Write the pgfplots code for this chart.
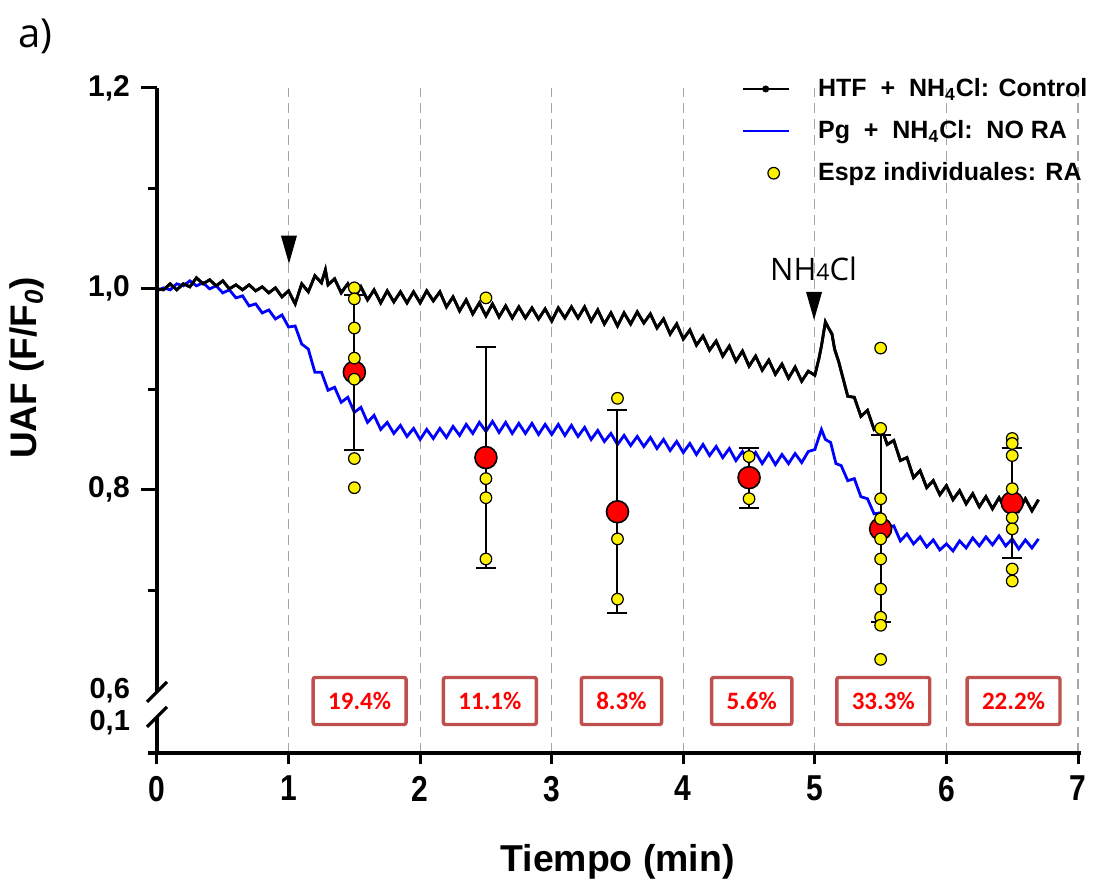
\documentclass[border=0pt]{standalone}
\usepackage{fontspec}
\setmainfont{Liberation Sans}
\newfontfamily\calib{Carlito}
\newfontfamily\opens{Open Sans}
\usepackage{graphicx}
\usepackage{pgfplots}
\usepackage{pgfplotstable}
\pgfplotsset{compat=1.18}
\definecolor{boxred}{HTML}{C0504D}
\definecolor{txtred}{HTML}{FF0000}
\definecolor{blueline}{HTML}{0000FF}
\pgfplotsset{
  legline/.style={legend image code/.code={\draw[##1] (0pt,0pt) -- (23pt,0pt);}},
  leglinedot/.style={legend image code/.code={\draw[##1] (0pt,0pt) -- (23pt,0pt); \fill[black] (11.5pt,0pt) circle (1pt);}},
  legdot/.style={legend image code/.code={\draw[##1] plot coordinates {(15.5pt,0pt)};}},
}

\pgfplotstableread{
x y
0.00 1.000
0.05 0.999
0.10 1.005
0.15 0.999
0.20 1.005
0.25 1.002
0.30 1.011
0.35 1.005
0.40 1.009
0.45 1.003
0.50 1.008
0.55 1.000
0.60 1.004
0.65 0.999
0.70 1.004
0.75 0.998
0.80 1.002
0.85 0.996
0.90 1.001
0.95 0.992
1.00 0.998
1.05 0.985
1.10 1.005
1.15 0.997
1.20 1.013
1.25 1.006
1.28 1.019
1.30 1.004
1.35 1.010
1.40 0.996
1.45 1.005
1.50 0.991
1.55 1.002
1.60 0.989
1.65 0.999
1.70 0.986
1.75 0.998
1.80 0.987
1.85 0.997
1.90 0.986
1.95 0.997
2.00 0.986
2.05 0.998
2.10 0.988
2.15 0.997
2.20 0.982
2.25 0.992
2.30 0.978
2.35 0.989
2.40 0.975
2.45 0.986
2.50 0.973
2.55 0.985
2.60 0.972
2.65 0.983
2.70 0.971
2.75 0.982
2.80 0.971
2.85 0.981
2.90 0.970
2.95 0.980
3.00 0.968
3.05 0.981
3.10 0.971
3.15 0.982
3.20 0.971
3.25 0.982
3.30 0.968
3.35 0.979
3.40 0.965
3.45 0.976
3.50 0.963
3.55 0.976
3.60 0.965
3.65 0.977
3.70 0.966
3.75 0.975
3.80 0.961
3.85 0.970
3.90 0.955
3.95 0.965
4.00 0.950
4.05 0.959
4.10 0.944
4.15 0.953
4.20 0.939
4.25 0.948
4.30 0.933
4.35 0.943
4.40 0.928
4.45 0.938
4.50 0.923
4.55 0.933
4.60 0.919
4.65 0.929
4.70 0.915
4.75 0.925
4.80 0.911
4.85 0.922
4.90 0.908
4.95 0.918
5.00 0.914
5.03 0.930
5.05 0.943
5.08 0.967
5.10 0.962
5.13 0.955
5.15 0.940
5.18 0.928
5.20 0.918
5.25 0.893
5.30 0.892
5.35 0.873
5.40 0.879
5.45 0.860
5.50 0.864
5.55 0.845
5.60 0.849
5.65 0.829
5.70 0.832
5.75 0.812
5.80 0.819
5.85 0.802
5.90 0.809
5.95 0.795
6.00 0.804
6.05 0.790
6.10 0.799
6.15 0.786
6.20 0.796
6.25 0.783
6.30 0.793
6.35 0.781
6.40 0.792
6.45 0.780
6.50 0.791
6.55 0.779
6.60 0.791
6.65 0.779
6.70 0.790
}\blackdata

\pgfplotstableread{
x y
0.00 0.998
0.05 1.001
0.10 0.999
0.15 1.005
0.20 1.003
0.25 1.008
0.30 1.003
0.35 1.006
0.40 1.000
0.45 1.003
0.50 0.996
0.55 0.999
0.60 0.991
0.65 0.993
0.70 0.983
0.75 0.985
0.80 0.976
0.85 0.979
0.90 0.970
0.95 0.974
1.00 0.962
1.05 0.963
1.10 0.945
1.15 0.940
1.20 0.917
1.25 0.917
1.30 0.899
1.35 0.902
1.40 0.887
1.45 0.892
1.50 0.877
1.55 0.882
1.60 0.867
1.65 0.874
1.70 0.860
1.75 0.867
1.80 0.856
1.85 0.864
1.90 0.853
1.95 0.861
2.00 0.850
2.05 0.860
2.10 0.851
2.15 0.861
2.20 0.852
2.25 0.863
2.30 0.854
2.35 0.865
2.40 0.856
2.45 0.867
2.50 0.858
2.55 0.868
2.60 0.857
2.65 0.867
2.70 0.856
2.75 0.866
2.80 0.856
2.85 0.866
2.90 0.855
2.95 0.865
3.00 0.855
3.05 0.865
3.10 0.854
3.15 0.864
3.20 0.853
3.25 0.862
3.30 0.850
3.35 0.859
3.40 0.848
3.45 0.856
3.50 0.845
3.55 0.854
3.60 0.844
3.65 0.853
3.70 0.843
3.75 0.852
3.80 0.841
3.85 0.850
3.90 0.839
3.95 0.848
4.00 0.837
4.05 0.846
4.10 0.835
4.15 0.845
4.20 0.834
4.25 0.843
4.30 0.832
4.35 0.841
4.40 0.829
4.45 0.838
4.50 0.827
4.55 0.837
4.60 0.826
4.65 0.836
4.70 0.825
4.75 0.835
4.80 0.826
4.85 0.836
4.90 0.827
4.95 0.838
5.00 0.840
5.05 0.860
5.08 0.850
5.12 0.847
5.16 0.826
5.20 0.824
5.25 0.809
5.30 0.811
5.35 0.793
5.40 0.791
5.45 0.776
5.50 0.777
5.55 0.762
5.60 0.764
5.65 0.749
5.70 0.756
5.75 0.746
5.80 0.753
5.85 0.743
5.90 0.750
5.95 0.740
6.00 0.746
6.05 0.739
6.10 0.749
6.15 0.742
6.20 0.752
6.25 0.744
6.30 0.753
6.35 0.745
6.40 0.754
6.45 0.744
6.50 0.751
6.55 0.741
6.60 0.750
6.65 0.742
6.70 0.751
}\bluedata

\begin{document}
\begin{tikzpicture}
\path[use as bounding box] (-78.5pt,-63pt) rectangle (468pt,376.5pt);
\begin{axis}[
  scale only axis, width=460.5pt, height=332.5pt,
  xmin=0, xmax=7, ymin=0.5378, ymax=1.2,
  clip=false,
  axis lines*=left, axis line style={draw=none},
  tick align=outside,
  major tick length=8pt, minor tick length=4.5pt,
  tick style={black, line width=1.5pt},
  xtick={0,1,2,3,4,5,6,7},
  xtick style={/pgfplots/major tick length=5.5pt},
  /pgf/number format/assume math mode=true,
  xticklabel={\scalebox{1}[1.2]{\pgfmathprintnumber{\tick}}},
  xticklabel style={font=\bfseries\fontsize{15}{18}\selectfont},
  ytick={0.8,1.0,1.2}, yticklabels={{0,8},{1,0},{1,2}},
  minor ytick={0.7,0.9,1.1},
  yticklabel style={font=\bfseries\fontsize{15}{18}\selectfont, xshift=-2pt},
  extra y ticks={0.6025,0.5705}, extra y tick labels={{0,6},{0,1}},
  extra y tick style={major tick length=0pt,
    yticklabel style={xshift=-8pt, inner ysep=0pt, text height=10pt, text depth=0pt,
      font=\bfseries\fontsize{14.5}{17}\selectfont}},
  legend style={at={(rel axis cs:0.634,1.021)}, anchor=north west, draw=none, fill=none,
    inner sep=0pt, column sep=12pt, row sep=6.5pt,
    font=\bfseries\fontsize{12.5}{14}\selectfont},
  legend cell align=left,
]
\pgfplotsinvokeforeach{1,...,7}{
  \draw[gray!70, line width=0.6pt, dash pattern=on 5pt off 3pt] (axis cs:#1,0.5378) -- (axis cs:#1,1.2);
}
\addplot[black, line width=1.4pt, mark=none, leglinedot] table {\blackdata};
\addlegendentry{HTF\ \ +\ \ NH\textsubscript{4}Cl: Control}
\addplot[blueline, line width=1.4pt, mark=none, legline] table {\bluedata};
\addlegendentry{Pg\ \ +\ \ NH\textsubscript{4}Cl:\ \ NO RA}
\addplot[black, line width=1.4pt, mark=none, forget plot] table {\blackdata};
% error bars
\addplot[forget plot, only marks, mark=none,
  error bars/.cd, y dir=both, y explicit,
  error bar style={draw=black, line width=1pt},
  error mark options={rotate=90, draw=black, line width=1pt, mark size=5pt}]
  coordinates {
  (1.5,0.917) +- (0,0.077)
  (2.5,0.832) +- (0,0.110)
  (3.5,0.778) +- (0,0.101)
  (4.5,0.812) +- (0,0.030)
  (5.5,0.761) +- (0,0.093)
  (6.5,0.787) +- (0,0.055)
  };
\addplot[forget plot, only marks, mark=*, mark size=5.5pt,
  mark options={fill=red, draw=black, line width=0.8pt}]
  coordinates {(1.5,0.917) (2.5,0.832) (3.5,0.778) (4.5,0.812) (5.5,0.761) (6.5,0.787)};
\addplot[only marks, mark=*, mark size=2.9pt,
  mark options={fill=yellow, draw=black, line width=0.6pt}, legdot]
  coordinates {
  (1.5,1.001) (1.5,0.990) (1.5,0.961) (1.5,0.931) (1.5,0.910) (1.5,0.831) (1.5,0.802)
  (2.5,0.991) (2.5,0.811) (2.5,0.792) (2.5,0.731)
  (3.5,0.891) (3.5,0.751) (3.5,0.691)
  (4.5,0.833) (4.5,0.791)
  (5.5,0.941) (5.5,0.861) (5.5,0.791) (5.5,0.771) (5.5,0.751) (5.5,0.731) (5.5,0.701) (5.5,0.673) (5.5,0.665) (5.5,0.631)
  (6.5,0.851) (6.5,0.846) (6.5,0.834) (6.5,0.801) (6.5,0.772) (6.5,0.761) (6.5,0.721) (6.5,0.709)
  };
\addlegendentry{Espz individuales: RA}
% axis lines with break
\draw[line width=1.6pt] (axis cs:0,1.2) -- (axis cs:0,0.5986);
\draw[line width=1.6pt] (axis cs:0,0.5737) -- (axis cs:0,0.5378);
\draw[line width=1.6pt] ([shift={(-5pt,-5pt)}]axis cs:0,0.5986) -- ([shift={(5pt,5pt)}]axis cs:0,0.5986);
\draw[line width=1.6pt] ([shift={(-5pt,-5pt)}]axis cs:0,0.5737) -- ([shift={(5pt,5pt)}]axis cs:0,0.5737);
\draw[line width=1.6pt] (axis cs:-0.068,0.5378) -- (axis cs:7.02,0.5378);
% arrows
\fill[black] (axis cs:0.942,1.053) -- (axis cs:1.064,1.053) -- (axis cs:1.003,1.025) -- cycle;
\fill[black] (axis cs:4.933,0.997) -- (axis cs:5.055,0.997) -- (axis cs:4.994,0.969) -- cycle;
\node[font=\opens\fontsize{15.5}{18}\selectfont, anchor=base] at (axis cs:4.99,1.008) {NH{\fontsize{11.5}{13}\selectfont 4}Cl};
% percent boxes
\tikzset{pbox/.style={draw=boxred, line width=1.7pt, text=txtred, fill=white, rounded corners=1pt,
  font=\calib\bfseries\fontsize{12.5}{15}\selectfont, minimum height=23.5pt, inner xsep=7.5pt}}
\node[pbox] at (axis cs:1.54,0.5896) {19.4\%};
\node[pbox] at (axis cs:2.53,0.5896) {11.1\%};
\node[pbox] at (axis cs:3.53,0.5896) {8.3\%};
\node[pbox] at (axis cs:4.52,0.5896) {5.6\%};
\node[pbox] at (axis cs:5.52,0.5896) {33.3\%};
\node[pbox] at (axis cs:6.51,0.5896) {22.2\%};
% labels
\node[rotate=90, font=\bfseries\fontsize{18.5}{22}\selectfont] at (rel axis cs:-0.141,0.579) {UAF (F/F\textsubscript{\itshape 0})};
\node[font=\bfseries\fontsize{18.7}{22}\selectfont] at (rel axis cs:0.5,-0.164) {Tiempo (min)};
\node[font=\opens\fontsize{20}{24}\selectfont] at (rel axis cs:-0.132,1.077) {a)};
\end{axis}
\end{tikzpicture}
\end{document}
